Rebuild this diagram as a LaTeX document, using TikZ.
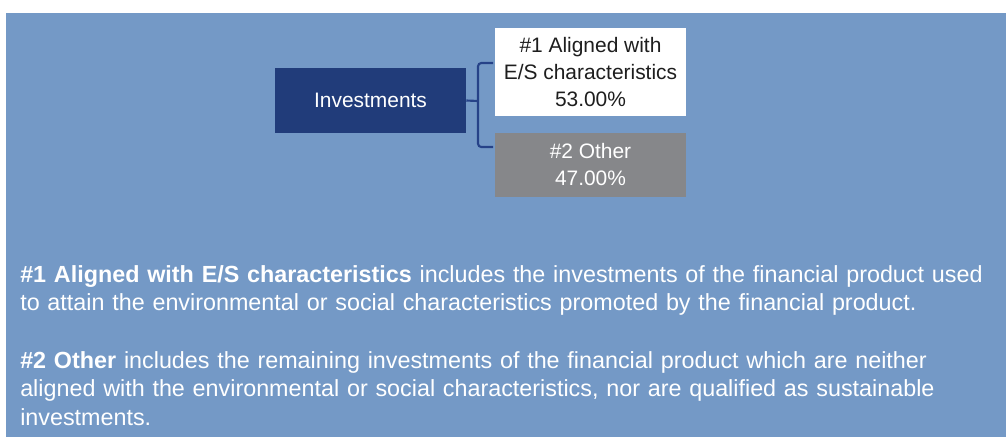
\documentclass[tikz,border=0pt]{standalone}
\usepackage{fontspec}
\setmainfont{Liberation Sans}
\definecolor{bgblue}{RGB}{116,153,198}
\definecolor{navy}{RGB}{33,60,122}
\definecolor{linkblue}{RGB}{38,66,136}
\definecolor{boxgray}{RGB}{134,135,138}
\definecolor{txtdark}{RGB}{30,30,30}
\begin{document}
\begin{tikzpicture}[x=0.75pt,y=-0.75pt,
  box/.style={rectangle,inner sep=0pt,align=center,
    font=\fontsize{15.7pt}{20.25pt}\selectfont},
  para/.style={anchor=north west,inner sep=0pt,align=left,text=white,
    text width=745pt,font=\fontsize{17.5pt}{21.4pt}\selectfont},
  link/.style={draw=linkblue,line width=1.6pt}]
\useasboundingbox (0,0) rectangle (1006,437);
\fill[bgblue] (6,13) rectangle (1006,437);
\node[box,fill=navy,text=white,minimum width=143.25pt,minimum height=48.75pt] (inv) at (370.5,100.5) {Investments};
\node[box,fill=white,text=txtdark,minimum width=143.25pt,minimum height=66pt] (al) at (590.5,72) {\#1 Aligned with\\E/S characteristics\\53.00\%};
\node[box,fill=boxgray,text=white,minimum width=143.25pt,minimum height=48pt] (oth) at (590.5,165) {\#2 Other\\47.00\%};
\coordinate (j) at (478,101);
\coordinate (t) at (493,63);
\coordinate (b) at (493,147);
\draw[link] (inv.east) -- (j);
\draw[link,rounded corners=2.5pt] (t) -| (j) |- (b);
\node[para] (p1) at (20,265) {\textbf{\#1 Aligned with E/S characteristics} includes the investments of the financial product used\\to attain the environmental or social characteristics promoted by the financial product.};
\node[para] (p2) at (20,351) {\textbf{\#2 Other} includes the remaining investments of the financial product which are neither\\aligned with the environmental or social characteristics, nor are qualified as sustainable\\investments.};
\end{tikzpicture}
\end{document}
